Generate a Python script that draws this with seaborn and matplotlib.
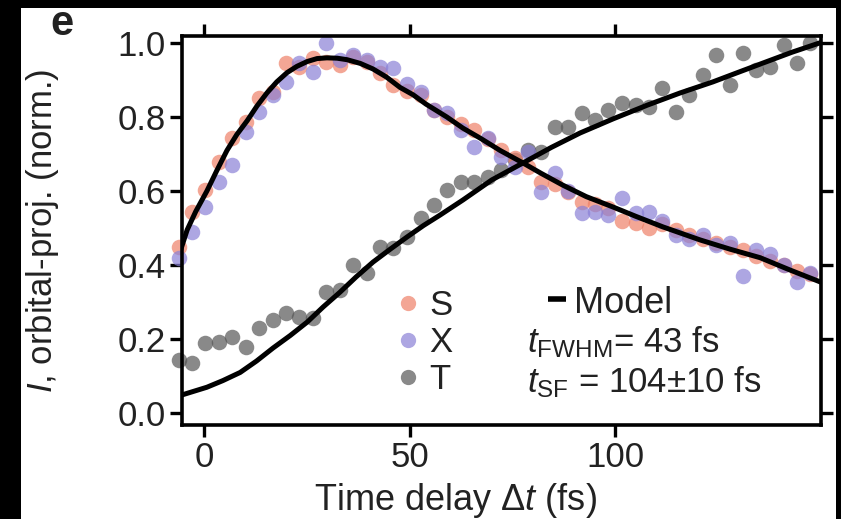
import numpy as np
import pandas as pd
import matplotlib
matplotlib.use("Agg")
import matplotlib.pyplot as plt
from matplotlib.patches import Rectangle
import seaborn as sns

# Pump-probe delay grid (fs)
delay = [-6.2, -2.9, 0.3, 3.6, 6.9, 10.2, 13.4, 16.7, 20.0, 23.2, 26.5, 29.8,
         33.0, 36.3, 39.6, 42.9, 46.1, 49.4, 52.7, 55.9, 59.2, 62.5, 65.7, 69.0,
         72.3, 75.6, 78.8, 82.1, 85.4, 88.6, 91.9, 95.2, 98.4, 101.7, 105.0, 108.3,
         111.5, 114.8, 118.1, 121.3, 124.6, 127.9, 131.1, 134.4, 137.7, 141.0, 144.2, 147.5]

# Orbital-projected intensities (normalised)
s_vals = [0.449, 0.543, 0.603, 0.678, 0.743, 0.786, 0.851, 0.868, 0.946, 0.935, 0.959, 0.950,
          0.940, 0.962, 0.950, 0.920, 0.886, 0.870, 0.860, 0.820, 0.800, 0.780, 0.765, 0.740,
          0.711, 0.690, 0.665, 0.624, 0.620, 0.597, 0.570, 0.565, 0.555, 0.520, 0.513, 0.500,
          0.510, 0.495, 0.480, 0.470, 0.460, 0.450, 0.440, 0.425, 0.410, 0.400, 0.385, 0.375]
x_vals = [0.419, 0.490, 0.557, 0.624, 0.670, 0.759, 0.814, 0.859, 0.895, 0.946, 0.922, 1.000,
          0.954, 0.968, 0.954, 0.935, 0.932, 0.890, 0.868, 0.819, 0.811, 0.765, 0.719, 0.743,
          0.692, 0.665, 0.705, 0.597, 0.649, 0.600, 0.541, 0.543, 0.535, 0.581, 0.540, 0.543,
          0.520, 0.480, 0.470, 0.480, 0.455, 0.460, 0.370, 0.440, 0.430, 0.400, 0.355, 0.380]
t_vals = [0.143, 0.135, 0.189, 0.192, 0.205, 0.178, 0.230, 0.251, 0.270, 0.260, 0.257, 0.327,
          0.332, 0.400, 0.378, 0.449, 0.446, 0.476, 0.527, 0.562, 0.603, 0.624, 0.624, 0.638,
          0.657, 0.685, 0.711, 0.705, 0.773, 0.773, 0.811, 0.792, 0.819, 0.838, 0.832, 0.827,
          0.878, 0.814, 0.859, 0.914, 0.968, 0.886, 0.973, 0.927, 0.935, 0.995, 0.946, 1.000]

# Kinetic model curves
model_sx_t = [-6.0, -4.1, -2.0, 0.7, 3.1, 5.6, 8.0, 10.5, 12.9, 15.3, 17.7, 20.2, 22.6,
              25.1, 27.5, 29.9, 32.4, 34.8, 38.0, 41.1, 44.4, 47.7, 50.9, 54.0, 59.1,
              63.0, 67.2, 72.0, 77.6, 82.0, 87.3, 93.0, 99.5, 105.0, 111.7, 120.7, 128.0,
              135.3, 142.5, 150.5]
model_sx_v = [0.430, 0.495, 0.545, 0.600, 0.655, 0.710, 0.753, 0.790, 0.830, 0.865, 0.895,
              0.920, 0.937, 0.950, 0.958, 0.960, 0.959, 0.955, 0.945, 0.930, 0.908, 0.880,
              0.860, 0.835, 0.800, 0.770, 0.743, 0.710, 0.676, 0.648, 0.616, 0.585, 0.557,
              0.532, 0.503, 0.468, 0.443, 0.420, 0.387, 0.352]
model_t_t = [-6.0, 0.7, 4.6, 8.8, 12.8, 16.8, 21.0, 25.1, 29.0, 33.1, 37.0, 41.1, 45.3,
             49.4, 53.4, 57.4, 63.0, 70.0, 77.6, 84.5, 91.5, 99.5, 107.8, 115.8, 123.8,
             130.0, 136.0, 143.0, 150.5]
model_t_v = [0.047, 0.070, 0.088, 0.110, 0.141, 0.176, 0.210, 0.246, 0.287, 0.327, 0.368,
             0.408, 0.443, 0.476, 0.507, 0.535, 0.576, 0.630, 0.676, 0.718, 0.757, 0.795,
             0.832, 0.865, 0.895, 0.921, 0.946, 0.975, 1.003]

labels = ["S", "X", "T"]
colors = {"S": "#ee8068", "X": "#8a80d6", "T": "#575757"}

df = pd.DataFrame({
    "delay": delay * 3,
    "value": s_vals + x_vals + t_vals,
    "state": ["S"] * len(delay) + ["X"] * len(delay) + ["T"] * len(delay),
})

sns.set_theme(style="ticks")
plt.rcParams["font.family"] = ["Liberation Sans", "DejaVu Sans"]
plt.rcParams["mathtext.fontset"] = "custom"
plt.rcParams["mathtext.rm"] = "Liberation Sans"
plt.rcParams["mathtext.it"] = "Liberation Sans:italic"
plt.rcParams["mathtext.bf"] = "Liberation Sans:bold"

W, H = 841, 519
fig = plt.figure(figsize=(W / 100, H / 100), dpi=100)
fig.patch.set_facecolor("black")

# white page inside a thin black frame
bg = fig.add_axes([0, 0, 1, 1], zorder=0)
bg.set_axis_off()
bg.add_patch(Rectangle((21 / W, 0), (836 - 21) / W, (H - 8) / H,
                       transform=bg.transAxes, facecolor="white", edgecolor="none"))

ax = fig.add_axes([182 / W, (H - 425) / H, (821 - 182) / W, (425 - 36) / H], zorder=2)

for st in ["T", "S", "X"]:
    sub = df[df["state"] == st]
    sns.scatterplot(data=sub, x="delay", y="value", ax=ax, color=colors[st],
                    s=125, alpha=0.7, linewidth=0, clip_on=False, zorder=2,
                    legend=False)

sns.lineplot(x=model_sx_t, y=model_sx_v, ax=ax, color="black", lw=3.6,
             sort=False, zorder=3)
sns.lineplot(x=model_t_t, y=model_t_v, ax=ax, color="black", lw=3.6,
             sort=False, zorder=3)

ax.set_xlim(-5.35, 150.1)
ax.set_ylim(-0.032, 1.019)
ax.set_xticks([0, 50, 100])
ax.set_yticks([0.0, 0.2, 0.4, 0.6, 0.8, 1.0])
ax.set_yticklabels(["0.0", "0.2", "0.4", "0.6", "0.8", "1.0"])
ax.tick_params(direction="out", length=8.5, width=2.4, labelsize=25,
               top=True, right=True, labeltop=False, labelright=False,
               color="black", labelcolor="#222222", pad=3)
for sp in ax.spines.values():
    sp.set_linewidth(2.6)
    sp.set_color("black")

ax.set_xlabel(r"Time delay $\Delta t$ (fs)", fontsize=26, color="#222222")
ax.set_ylabel(r"$I$, orbital-proj. (norm.)", fontsize=25, color="#222222")
ax.xaxis.set_label_coords((455 - 182) / (821 - 182), -0.145)
ax.yaxis.set_label_coords(-0.19, 0.5)

# Legend for the three states
handles = [plt.Line2D([], [], ls="none", marker="o", markersize=11,
                      markerfacecolor=colors[k], markeredgewidth=0, alpha=0.7)
           for k in labels]
ax.legend(handles, labels, loc="upper left", bbox_to_anchor=(0.305, 0.385),
          frameon=False, fontsize=25, handletextpad=0.1, labelspacing=0.12,
          borderaxespad=0, handlelength=1.0, labelcolor="#222222")

# Model annotation
ax.plot([0.573, 0.601], [0.323, 0.323], transform=ax.transAxes, color="black",
        lw=4, solid_capstyle="butt", clip_on=False)
ax.text(0.614, 0.312, "Model", transform=ax.transAxes, fontsize=26,
        va="center", ha="left", color="#222222")
ax.text(0.540, 0.213, r"$t_{\mathrm{FWHM}}$= 43 fs", transform=ax.transAxes,
        fontsize=25, va="center", ha="left", color="#222222")
ax.text(0.540, 0.110, r"$t_{\mathrm{SF}}$ = 104±10 fs", transform=ax.transAxes,
        fontsize=25, va="center", ha="left", color="#222222")

fig.text(62 / W, 1 - 24 / H, "e", fontsize=30, fontweight="bold",
         ha="center", va="center", color="#222222", zorder=5)

fig.savefig("out.png", dpi=100, facecolor=fig.get_facecolor())
